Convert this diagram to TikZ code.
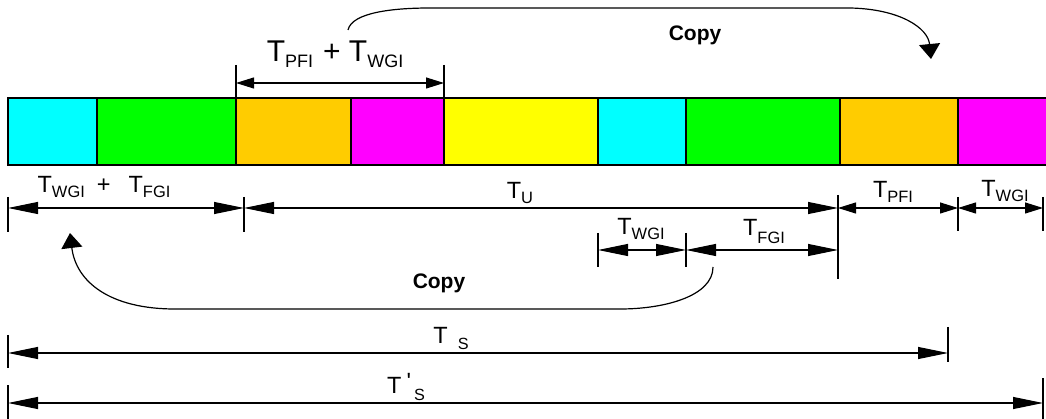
\documentclass[tikz,border=0pt]{standalone}
\usepackage{fontspec}
\setmainfont{Liberation Sans}
\usetikzlibrary{arrows.meta}
\definecolor{slotcyan}{HTML}{00FFFF}
\definecolor{slotgreen}{HTML}{00FF00}
\definecolor{slotorange}{HTML}{FFCC00}
\definecolor{slotmagenta}{HTML}{FF00FF}
\definecolor{slotyellow}{HTML}{FFFF00}
\newcommand{\Tsub}[2][0.7]{T\raisebox{-0.2em}{\scalebox{#1}{#2}}}
\begin{document}
\begin{tikzpicture}[x=1pt, y=-1pt,
    slot/.style={draw, line width=1.3pt},
    tick/.style={draw, line width=1.1pt},
    dimlong/.style={line width=1.1pt,
        {Triangle[length=30pt,width=12pt]}-{Triangle[length=30pt,width=12pt]}},
    dimshort/.style={line width=1.1pt,
        {Triangle[length=18pt,width=11pt]}-{Triangle[length=18pt,width=11pt]}},
    copyarrow/.style={line width=1.2pt, -{Triangle[length=15pt,width=21pt]}},
    lbl/.style={inner sep=0pt, anchor=base, font=\fontsize{23.5}{26}\selectfont},
    biglbl/.style={lbl, font=\fontsize{30}{33}\selectfont},
    copylbl/.style={inner sep=0pt, font=\fontsize{21}{24}\selectfont\bfseries}]
    \useasboundingbox (0,0) rectangle (1046,419);
    \foreach \a/\b/\c in {8/97/slotcyan, 97/236/slotgreen, 236/351/slotorange,
        351/444/slotmagenta, 444/598/slotyellow, 598/686/slotcyan,
        686/840/slotgreen, 840/958/slotorange, 958/1052/slotmagenta}
        \draw[slot, fill=\c] (\a,98) rectangle (\b,165);
    \foreach \n/\x/\y/\t/\b in {up1/236/83/65/98, up2/444/83/65/98,
        r1a/8/208/197/232, r1b/244/208/197/232, r1c/838/208/195/279,
        r1d/958/208/197/231, r1e/1043/208/197/231,
        r2a/598/250/233/267, r2b/686/250/233/267,
        ts1/8/353/335/368, ts2/948/353/327/362,
        tq1/8/403/385/419, tq2/1043/403/378/419}
    {
        \coordinate (\n) at (\x,\y);
        \draw[tick] (\x,\t) -- (\x,\b);
    }
    \coordinate (r2c) at (838,250);
    \draw[dimshort] (up1) -- (up2);
    \draw[dimlong] (r1a) -- (r1b);
    \draw[dimlong] (r1b) -- (r1c);
    \draw[dimshort] (r1c) -- (r1d);
    \draw[dimshort] (r1d) -- (r1e);
    \draw[dimlong] (r2a) -- (r2b);
    \draw[dimlong] (r2b) -- (r2c);
    \draw[dimlong] (ts1) -- (ts2);
    \draw[dimlong] (tq1) -- (tq2);
    \node[biglbl] (lpfiwgi) at (335,62) {\Tsub[0.6]{PFI}\hspace{10pt}+ \Tsub[0.6]{WGI}};
    \node[lbl] (lwgifgi) at (104,193) {\Tsub{WGI}\hspace{12pt}+\hspace{18pt}\Tsub{FGI}};
    \node[lbl] (lu) at (520,199) {\Tsub{U}};
    \node[lbl] (lpfi) at (893,198) {\Tsub{PFI}};
    \node[lbl] (lwgi) at (1005,197) {\Tsub{WGI}};
    \node[lbl] (lwgi2) at (641,235) {\Tsub{WGI}};
    \node[lbl] (lfgi2) at (764,236) {T\raisebox{-0.3em}{\scalebox{0.7}{FGI}}};
    \node[lbl] (lts) at (451,343) {T\hspace{10pt}\raisebox{-6pt}{\scalebox{0.69}{S}}};
    \node[lbl] (ltq) at (406,393) {T\hspace{5pt}\raisebox{4pt}{\textquotesingle}\hspace{3pt}\raisebox{-7pt}{\scalebox{0.69}{S}}};
    \node[copylbl] (cptop) at (695,35) {Copy};
    \node[copylbl] (cpbot) at (439,283) {Copy};
    \coordinate (cpt0) at (348,30);
    \coordinate (cpt1) at (931,59);
    \coordinate (cpb0) at (713,267);
    \coordinate (cpb1) at (70,233);
    \draw[copyarrow] (cpt0) .. controls (352,12) and (395,8) .. (430,8) -- (850,8)
        .. controls (900,9) and (928,28) .. (cpt1);
    \draw[copyarrow] (cpb0) .. controls (713,296) and (665,309) .. (620,309) -- (175,309)
        .. controls (110,309) and (76,282) .. (cpb1);
\end{tikzpicture}
\end{document}
